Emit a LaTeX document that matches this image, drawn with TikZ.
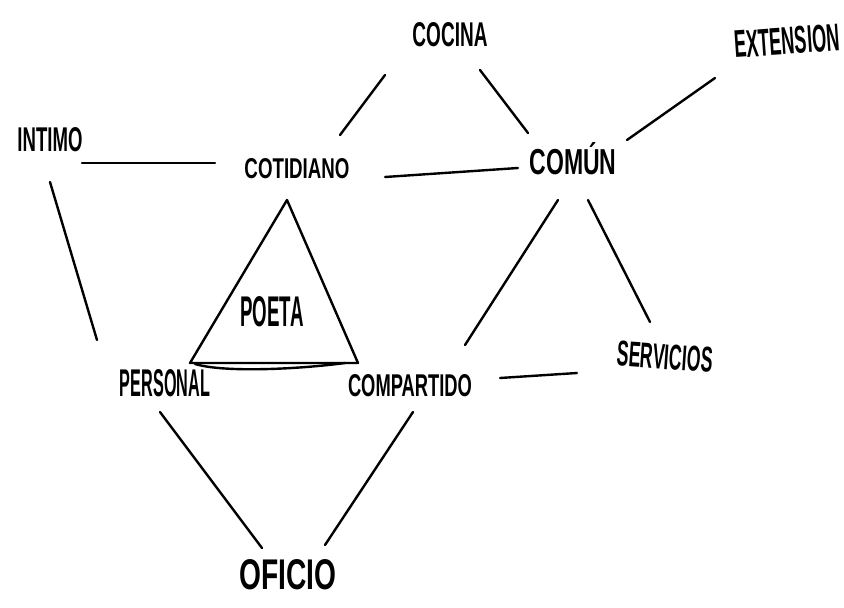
\documentclass[tikz,border=0pt]{standalone}
\usepackage{fontspec}
\usepackage{graphicx}
\setmainfont{Liberation Sans}
\newcommand\hwtext[3]{\resizebox{#1pt}{#2pt}{\bfseries #3}}
\begin{document}
\begin{tikzpicture}[x=1pt,y=-1pt,
  lbl/.style={inner sep=0pt, text=black},
  con/.style={line width=2.4pt, line cap=round, draw=black},
  tri/.style={line width=2.4pt, line join=round, line cap=round, draw=black}]
\useasboundingbox[fill=white] (0,0) rectangle (844,608);
% nodes
\node[lbl] (cocina) at (450,35) {\hwtext{75}{24}{COCINA}};
\node[lbl, rotate=4] (extension) at (787,41) {\hwtext{105}{27}{EXTENSION}};
\node[lbl] (intimo) at (50,140) {\hwtext{65}{24}{INTIMO}};
\node[lbl] (cotidiano) at (297,169) {\hwtext{105}{20}{COTIDIANO}};
\node[lbl] (comun) at (573,159) {\hwtext{87}{32}{COMÚN}};
\node[lbl] (poeta) at (272,312) {\hwtext{63}{30}{POETA}};
\node[lbl] (personal) at (165,383) {\hwtext{90}{27}{PERSONAL}};
\node[lbl] (compartido) at (410,386) {\hwtext{124}{22}{COMPARTIDO}};
\node[lbl, rotate=-4] (servicios) at (665,357) {\hwtext{96}{25}{SERVICIOS}};
\node[lbl] (oficio) at (288,575) {\hwtext{97}{30}{OFICIO}};
% connectors
\draw[con] ([shift={(-65,40)}]cocina.center) -- ([shift={(43,-34)}]cotidiano.center);
\draw[con] ([shift={(30,35)}]cocina.center) -- ([shift={(-45,-26)}]comun.center);
\draw[con] ([shift={(-72,37)}]extension.center) -- ([shift={(54,-19)}]comun.center);
\draw[con] ([shift={(32,23)}]intimo.center) -- ([shift={(-82,-6)}]cotidiano.center);
\draw[con] ([shift={(88,8)}]cotidiano.center) -- ([shift={(-55,9)}]comun.center);
\draw[con] ([shift={(0,42)}]intimo.center) -- ([shift={(-68,-43)}]personal.center);
\draw[con] ([shift={(-15,41)}]comun.center) -- ([shift={(55,-41)}]compartido.center);
\draw[con] ([shift={(15,41)}]comun.center) -- ([shift={(-15,-35)}]servicios.center);
\draw[con] ([shift={(90,-8)}]compartido.center) -- ([shift={(-88,16)}]servicios.center);
\draw[con] ([shift={(-5,29)}]personal.center) -- ([shift={(-26,-27)}]oficio.center);
\draw[con] ([shift={(3,26)}]compartido.center) -- ([shift={(37,-30)}]oficio.center);
% triangle
\draw[tri] ([shift={(-10,31)}]cotidiano.center) -- ([shift={(25,-20)}]personal.center)
  -- ([shift={(-52,-23)}]compartido.center) -- cycle;
\draw[con] ([shift={(30,-19)}]personal.center) .. controls +(30,9) and +(-45,6) .. ([shift={(-65,-23)}]compartido.center);
\end{tikzpicture}
\end{document}
